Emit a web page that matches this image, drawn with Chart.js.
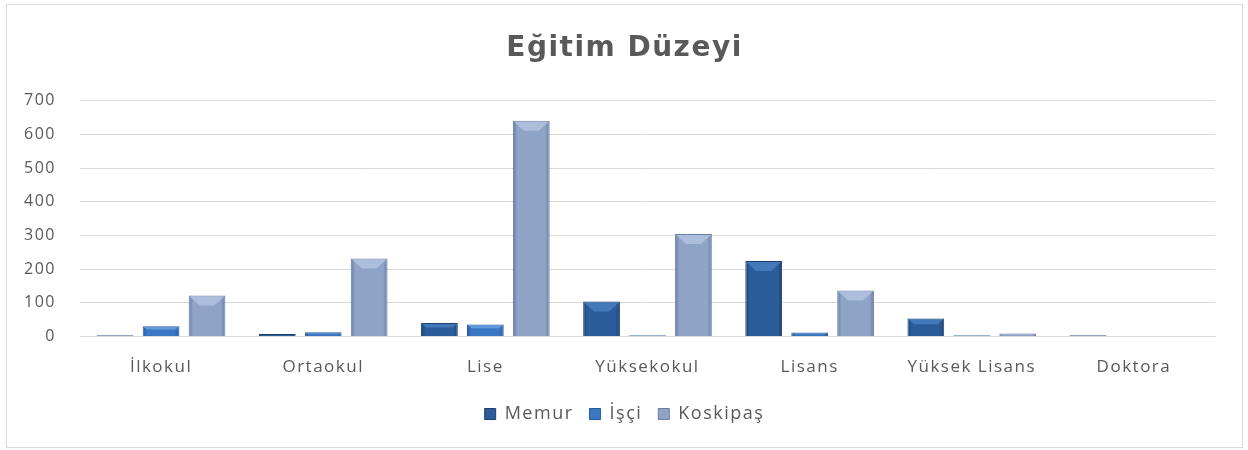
<!DOCTYPE html>
<html>
<head>
<meta charset="utf-8">
<script src="https://cdn.jsdelivr.net/npm/chart.js@4/dist/chart.umd.min.js"></script>
<style>
    body { margin: 0; background: #fff; }
    #box { position: absolute; left: 6px; top: 4px; width: 1235px; height: 442px; border: 1px solid #d9d9d9; }
</style>
</head>
<body>
<div id="box"><canvas id="egitimChart" width="1235" height="442"></canvas></div>
<script>
// values
const categories = ["İlkokul", "Ortaokul", "Lise", "Yüksekokul", "Lisans", "Yüksek Lisans", "Doktora"];
const memur = [4, 8, 40, 104, 224, 54, 4];
const isci = [31, 13, 36, 4, 12, 4, 0];
const koskipas = [122, 232, 640, 304, 137, 9, 0];
const yTicks = [0, 100, 200, 300, 400, 500, 600, 700];

const textColor = '#595959';
const font = "'Open Sans', 'DejaVu Sans', sans-serif";

// light / base / dark per series for the bevel look
const shades = [
    ['#4a80c0', '#2b5d9b', '#1c4272'],
    ['#6aa3e4', '#3a78c4', '#275b9b'],
    ['#b4c4e0', '#8ea3c6', '#677da3']
];

// the original text is a bit spaced out
const spacingPlugin = {
    id: 'spacing',
    beforeLayout(chart) { chart.ctx.letterSpacing = '1.5px'; },
    beforeDraw(chart) { chart.ctx.letterSpacing = '1.5px'; }
};

// paint a bevel gradient over each bar the library placed
const bevelPlugin = {
    id: 'bevel',
    beforeDatasetsDraw(chart) {
        const c = chart.ctx;
        chart.data.datasets.forEach(function (ds, i) {
            const meta = chart.getDatasetMeta(i);
            const s = shades[i];
            meta.data.forEach(function (bar) {
                const x0 = bar.x - bar.width / 2;
                const g = c.createLinearGradient(x0, 0, x0 + bar.width, 0);
                g.addColorStop(0, s[2]);
                g.addColorStop(0.12, s[1]);
                g.addColorStop(0.5, s[1]);
                g.addColorStop(0.88, s[1]);
                g.addColorStop(1, s[2]);
                bar.options = Object.assign({}, bar.options, { backgroundColor: g });
            });
        });
    },
    afterDatasetsDraw(chart) {
        const c = chart.ctx;
        chart.data.datasets.forEach(function (ds, i) {
            const meta = chart.getDatasetMeta(i);
            const s = shades[i];
            meta.data.forEach(function (bar) {
                const h = bar.base - bar.y;
                if (h < 6) return;
                const x0 = bar.x - bar.width / 2;
                const band = Math.min(10, h / 3);
                c.save();
                c.fillStyle = s[0];
                c.globalAlpha = 0.8;
                c.beginPath();
                c.moveTo(x0 + 1, bar.y + 1);
                c.lineTo(x0 + bar.width - 1, bar.y + 1);
                c.lineTo(x0 + bar.width - 1 - band, bar.y + band);
                c.lineTo(x0 + 1 + band, bar.y + band);
                c.closePath();
                c.fill();
                c.restore();
            });
        });
    }
};

new Chart(document.getElementById('egitimChart'), {
    type: 'bar',
    data: {
        labels: categories,
        datasets: [
            { label: 'Memur', data: memur, backgroundColor: shades[0][1], borderColor: shades[0][2], borderWidth: 1 },
            { label: 'İşçi', data: isci, backgroundColor: shades[1][1], borderColor: shades[1][2], borderWidth: 1 },
            { label: 'Koskipaş', data: koskipas, backgroundColor: shades[2][1], borderColor: shades[2][2], borderWidth: 1 }
        ]
    },
    plugins: [spacingPlugin, bevelPlugin],
    options: {
        responsive: false,
        animation: false,
        layout: { padding: { left: 14, right: 14, top: 12, bottom: 14 } },
        categoryPercentage: 0.85,
        barPercentage: 0.8,
        plugins: {
            title: {
                display: true,
                text: 'Eğitim Düzeyi',
                color: textColor,
                font: { family: "'DejaVu Sans', sans-serif", size: 28, weight: 'bold' },
                padding: { top: 15, bottom: 35 }
            },
            legend: {
                position: 'bottom',
                labels: {
                    color: textColor,
                    font: { family: font, size: 18 },
                    boxWidth: 11,
                    boxHeight: 11,
                    padding: 16
                }
            },
            tooltip: { enabled: false }
        },
        scales: {
            x: {
                grid: { display: false },
                border: { color: '#d9d9d9' },
                ticks: { color: textColor, font: { family: font, size: 17 }, padding: 12 }
            },
            y: {
                min: 0,
                max: 700,
                afterBuildTicks: function (axis) {
                    axis.ticks = yTicks.map(function (v) { return { value: v }; });
                },
                afterFit: function (axis) { axis.width = 59; },
                grid: { color: '#d9d9d9', drawTicks: false },
                border: { display: false },
                ticks: { color: textColor, font: { family: font, size: 16 }, padding: 24 }
            },
            // empty spacer on the right so the plot ends where the original does
            yRight: {
                position: 'right',
                grid: { display: false },
                border: { display: false },
                ticks: { display: false },
                afterFit: function (axis) { axis.width = 13; }
            }
        }
    }
});
</script>
</body>
</html>
